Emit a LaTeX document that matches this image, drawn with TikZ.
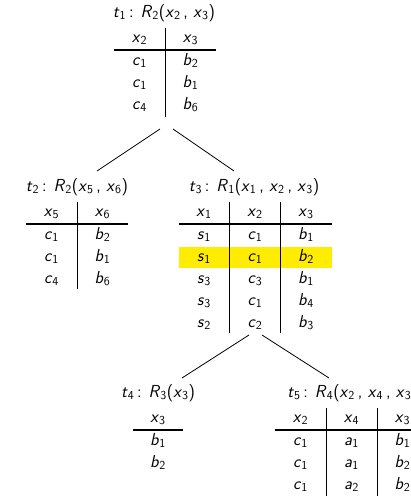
\documentclass[tikz,border=0pt]{standalone}
\usepackage{fontspec}
\newcommand{\vv}[2]{\textit{#1}\textsubscript{\upshape #2}}
\newcommand{\fs}{\sffamily\fontsize{17.4}{20}\selectfont}
\newcommand{\cln}{\,:\hspace{0.4em}}
\definecolor{hl}{RGB}{255,236,0}
\begin{document}
\begin{tikzpicture}[x=1pt,y=-1pt,
  tx/.style={font=\fs, inner sep=0pt, anchor=mid},
  rule/.style={line width=1.1pt},
  sep/.style={line width=0.8pt},
  edge/.style={line width=0.8pt}]
\useasboundingbox (0,0) rectangle (411,498);
\clip (0,0) rectangle (411,498);

% ---------- t1 ----------
\node[tx] (t1t) at (164,15) {\vv{t}{1}\cln\vv{R}{2}(\vv{x}{2}\,, \vv{x}{3})};
\node[tx] (t1ha) at (139.5,40) {\vv{x}{2}};
\node[tx] (t1hb) at (190.5,40) {\vv{x}{3}};
\draw[rule] (114,50) -- (216,50);
\draw[sep] (165,28) -- (165,117);
\foreach \ca/\cb [count=\i] in {{\vv{c}{1}}/{\vv{b}{2}},{\vv{c}{1}}/{\vv{b}{1}},{\vv{c}{4}}/{\vv{b}{6}}}{
  \node[tx] (t1r\i a) at (139.5,{63+22*(\i-1)}) {\ca};
  \node[tx] (t1r\i b) at (190.5,{63+22*(\i-1)}) {\cb};
}

% ---------- tree edges level 1 ----------
\coordinate (e1s) at (160,129);
\coordinate (e1e) at (97,171);
\coordinate (e2s) at (173,129);
\coordinate (e2e) at (234,171);
\draw[edge] (e1s) -- (e1e);
\draw[edge] (e2s) -- (e2e);

% ---------- t2 ----------
\node[tx] (t2t) at (77,189) {\vv{t}{2}\cln\vv{R}{2}(\vv{x}{5}\,, \vv{x}{6})};
\node[tx] (t2ha) at (51.5,214) {\vv{x}{5}};
\node[tx] (t2hb) at (102.5,214) {\vv{x}{6}};
\draw[rule] (26,224) -- (128,224);
\draw[sep] (77,202) -- (77,289);
\foreach \ca/\cb [count=\i] in {{\vv{c}{1}}/{\vv{b}{2}},{\vv{c}{1}}/{\vv{b}{1}},{\vv{c}{4}}/{\vv{b}{6}}}{
  \node[tx] (t2r\i a) at (51.5,{237+22*(\i-1)}) {\ca};
  \node[tx] (t2r\i b) at (102.5,{237+22*(\i-1)}) {\cb};
}

% ---------- t3 ----------
\fill[hl] (178.5,247) rectangle (331.5,268);
\node[tx] (t3t) at (254,189) {\vv{t}{3}\cln\vv{R}{1}(\vv{x}{1}\,, \vv{x}{2}\,, \vv{x}{3})};
\node[tx] (t3ha) at (204,214) {\vv{x}{1}};
\node[tx] (t3hb) at (255,214) {\vv{x}{2}};
\node[tx] (t3hc) at (306,214) {\vv{x}{3}};
\draw[rule] (178.5,224) -- (331.5,224);
\draw[sep] (229.5,202) -- (229.5,333);
\draw[sep] (280.5,202) -- (280.5,333);
\foreach \ca/\cb/\cc [count=\i] in {{\vv{s}{1}}/{\vv{c}{1}}/{\vv{b}{1}},{\vv{s}{1}}/{\vv{c}{1}}/{\vv{b}{2}},{\vv{s}{3}}/{\vv{c}{3}}/{\vv{b}{1}},{\vv{s}{3}}/{\vv{c}{1}}/{\vv{b}{4}},{\vv{s}{2}}/{\vv{c}{2}}/{\vv{b}{3}}}{
  \node[tx] (t3r\i a) at (204,{237+22*(\i-1)}) {\ca};
  \node[tx] (t3r\i b) at (255,{237+22*(\i-1)}) {\cb};
  \node[tx] (t3r\i c) at (306,{237+22*(\i-1)}) {\cc};
}

% ---------- tree edges level 2 ----------
\coordinate (e3s) at (249,335);
\coordinate (e3e) at (182,378);
\coordinate (e4s) at (262,335);
\coordinate (e4e) at (329,378);
\draw[edge] (e3s) -- (e3e);
\draw[edge] (e4s) -- (e4e);

% ---------- t4 ----------
\node[tx] (t4t) at (158,395) {\vv{t}{4}\cln\vv{R}{3}(\vv{x}{3})};
\node[tx] (t4ha) at (158,420) {\vv{x}{3}};
\draw[rule] (133,430) -- (183,430);
\node[tx] (t4r1a) at (158,443) {\vv{b}{1}};
\node[tx] (t4r2a) at (158,465) {\vv{b}{2}};

% ---------- t5 ----------
\node[tx] (t5t) at (352.5,395) {\vv{t}{5}\cln\vv{R}{4}(\vv{x}{2}\,, \vv{x}{4}\,, \vv{x}{3})};
\node[tx] (t5ha) at (300.5,420) {\vv{x}{2}};
\node[tx] (t5hb) at (351.5,420) {\vv{x}{4}};
\node[tx] (t5hc) at (402.5,420) {\vv{x}{3}};
\draw[rule] (275,430) -- (428,430);
\draw[sep] (326,408) -- (326,496);
\draw[sep] (377,408) -- (377,496);
\foreach \ca/\cb/\cc [count=\i] in {{\vv{c}{1}}/{\vv{a}{1}}/{\vv{b}{1}},{\vv{c}{1}}/{\vv{a}{1}}/{\vv{b}{2}},{\vv{c}{1}}/{\vv{a}{2}}/{\vv{b}{2}}}{
  \node[tx] (t5r\i a) at (300.5,{443+22*(\i-1)}) {\ca};
  \node[tx] (t5r\i b) at (351.5,{443+22*(\i-1)}) {\cb};
  \node[tx] (t5r\i c) at (402.5,{443+22*(\i-1)}) {\cc};
}
\end{tikzpicture}
\end{document}
